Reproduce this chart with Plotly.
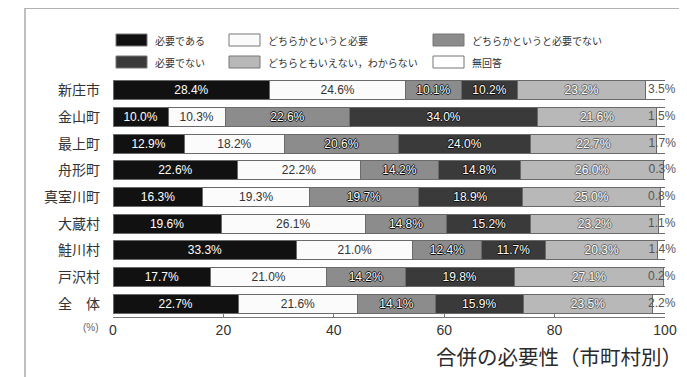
import plotly.graph_objects as go

categories = ["新庄市", "金山町", "最上町", "舟形町", "真室川町", "大蔵村", "鮭川村", "戸沢村", "全　体"]
series_names = ["必要である", "どちらかというと必要", "どちらかというと必要でない",
                "必要でない", "どちらともいえない，わからない", "無回答"]
hitsuyou = [28.4, 10.0, 12.9, 22.6, 16.3, 19.6, 33.3, 17.7, 22.7]
dochira_hitsuyou = [24.6, 10.3, 18.2, 22.2, 19.3, 26.1, 21.0, 21.0, 21.6]
dochira_fuyou = [10.1, 22.6, 20.6, 14.2, 19.7, 14.8, 12.4, 14.2, 14.1]
fuyou = [10.2, 34.0, 24.0, 14.8, 18.9, 15.2, 11.7, 19.8, 15.9]
wakaranai = [23.2, 21.6, 22.7, 26.0, 25.0, 23.2, 20.3, 27.1, 23.5]
mukaitou = [3.5, 1.5, 1.7, 0.3, 0.8, 1.1, 1.4, 0.2, 2.2]
x_ticks = [0, 20, 40, 60, 80, 100]

series_values = [hitsuyou, dochira_hitsuyou, dochira_fuyou, fuyou, wakaranai, mukaitou]
colors = ["#111111", "#fbfbfb", "#8c8c8c", "#3a3a3a", "#b8b8b8", "#ffffff"]

# the page body adds an 8px offset; lay the figure out in reference pixels minus that offset
OFF = 8
W, H = 687 - OFF, 377 - OFF
ML, MR, MT, MB = 113 - OFF, 22, 77 - OFF, 60
PW, PH = W - ML - MR, H - MT - MB


def px(x):
    return (x - OFF - ML) / PW


def py(y):
    return (H - MB - (y - OFF)) / PH


JP = "Noto Sans CJK JP, Liberation Sans, sans-serif"
NUM = "Liberation Sans, Arial, sans-serif"
outline_dark = "1px 0 0 #111, -1px 0 0 #111, 0 1px 0 #111, 0 -1px 0 #111"
outline_gray = "1px 0 0 #666, -1px 0 0 #666, 0 1px 0 #666, 0 -1px 0 #666"

fig = go.Figure()
for i, (name, vals, col) in enumerate(zip(series_names, series_values, colors)):
    if i in (0, 2, 3):
        tf = dict(family=NUM, size=12, color="#ffffff", shadow=outline_dark)
    elif i == 4:
        tf = dict(family=NUM, size=12, color="#ffffff", shadow=outline_gray)
    else:
        tf = dict(family=NUM, size=12, color="#333333")
    fig.add_trace(go.Bar(
        name=name, y=categories, x=vals, orientation="h",
        marker=dict(color=col, line=dict(color="#6a6a6a", width=1)),
        text=[f"{v:.1f}%" for v in vals] if i < 5 else None,
        textposition="inside" if i < 5 else "none",
        insidetextanchor="middle", constraintext="none",
        textfont=tf, showlegend=False,
        hoverinfo="name+x+y",
    ))

# 無回答 labels placed at end of each stack
totals = [sum(s[k] for s in series_values) for k in range(len(categories))]
fig.add_trace(go.Scatter(
    x=[t - 0.6 for t in totals], y=categories, mode="text",
    text=[f"{v:.1f}%" for v in mukaitou],
    textposition="middle center",
    textfont=dict(family=NUM, size=12, color="#555555"),
    cliponaxis=False, showlegend=False, hoverinfo="skip",
))

fig.update_layout(
    barmode="stack", bargap=0.29,
    width=W, height=H,
    margin=dict(l=ML, r=MR, t=MT, b=MB),
    paper_bgcolor="white", plot_bgcolor="white",
    font=dict(family=JP, color="#333333"),
    showlegend=False,
    xaxis=dict(range=[0, 100], tickvals=x_ticks, ticktext=[str(t) for t in x_ticks],
               showgrid=False, zeroline=False, showline=True, linecolor="#777777",
               ticks="inside", ticklen=4, tickcolor="#777777", automargin=False,
               tickfont=dict(family=NUM, size=14, color="#333333")),
    yaxis=dict(categoryorder="array", categoryarray=categories, autorange="reversed",
               showgrid=False, showline=False, ticks="", automargin=False,
               ticklabelstandoff=12,
               tickfont=dict(family=JP, size=14, color="#333333")),
)

# manual legend (2 rows x 3 columns)
legend_cols = [(116, 147, 153), (229, 260, 266), (433, 464, 470)]
legend_rows = [40, 62]
for i, (name, col) in enumerate(zip(series_names, colors)):
    r, c = divmod(i, 3)
    x0, x1, tx = legend_cols[c]
    yc = legend_rows[r]
    fig.add_shape(type="rect", xref="paper", yref="paper",
                  x0=px(x0), x1=px(x1), y0=py(yc + 6), y1=py(yc - 6),
                  fillcolor=col, line=dict(color="#777777", width=1))
    fig.add_annotation(text=name, xref="paper", yref="paper", x=px(tx), y=py(yc),
                       xanchor="left", yanchor="middle", showarrow=False,
                       font=dict(family=JP, size=10, color="#333333"))

fig.add_annotation(text="(%)", xref="paper", yref="paper", x=px(101), y=py(327),
                   xanchor="right", yanchor="middle", showarrow=False,
                   font=dict(family=NUM, size=10, color="#666666"))
fig.add_annotation(text="合併の必要性（市町村別）", xref="paper", yref="paper",
                   x=px(434), y=py(356), xanchor="left", yanchor="middle", showarrow=False,
                   font=dict(family=JP, size=20.5, color="#2a2a2a"))

# frame lines
fig.add_shape(type="line", xref="paper", yref="paper", x0=px(25), x1=px(700), y0=py(8), y1=py(8),
              line=dict(color="#999999", width=1.5))
fig.add_shape(type="line", xref="paper", yref="paper", x0=px(25), x1=px(25), y0=py(8), y1=py(390),
              line=dict(color="#aaaaaa", width=1.5))

fig.write_html("out.html")
